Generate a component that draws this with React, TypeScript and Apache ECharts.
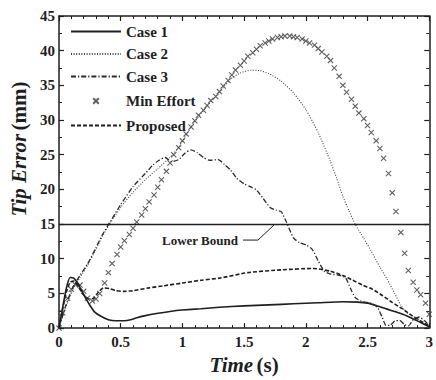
import React, { useEffect, useRef } from "react";
import * as echarts from "echarts";

// Time (s), Tip Error (mm)
const case1: [number, number][] = [
  [0, 0], [0.03, 3.0], [0.06, 5.8], [0.09, 7.3], [0.12, 7.2], [0.15, 6.5], [0.18, 5.5],
  [0.21, 4.5], [0.25, 3.3], [0.29, 2.3], [0.34, 1.7], [0.4, 1.2], [0.46, 1.05], [0.53, 1.05],
  [0.58, 1.2], [0.63, 1.5], [0.7, 1.8], [0.79, 2.1], [0.9, 2.4], [1.0, 2.6], [1.15, 2.8],
  [1.3, 3.0], [1.5, 3.2], [1.7, 3.35], [1.9, 3.5], [2.1, 3.65], [2.3, 3.8], [2.42, 3.75],
  [2.5, 3.6], [2.58, 3.2], [2.68, 2.6], [2.77, 2.1], [2.85, 1.5], [2.92, 0.9], [3.0, 0.2],
];

const case2: [number, number][] = [
  [0, 0], [0.05, 2.8], [0.11, 5.5], [0.17, 7.3], [0.23, 9.0], [0.3, 11.4], [0.35, 13.2],
  [0.41, 15.0], [0.5, 17.4], [0.6, 19.6], [0.7, 21.4], [0.8, 23.0], [0.9, 24.6], [0.97, 26.1],
  [1.07, 29.0], [1.18, 31.6], [1.29, 33.8], [1.39, 35.9], [1.47, 36.8], [1.56, 37.2],
  [1.63, 37.1], [1.7, 36.7], [1.8, 35.6], [1.9, 33.9], [2.0, 31.5], [2.1, 28.2], [2.2, 24.0],
  [2.25, 21.6], [2.3, 19.0], [2.35, 16.9], [2.4, 15.0], [2.47, 12.9], [2.53, 11.1], [2.6, 8.8],
  [2.66, 7.0], [2.72, 5.0], [2.77, 3.3], [2.82, 2.2], [2.88, 1.6], [2.94, 1.0], [3.0, 0.3],
];

const case3: [number, number][] = [
  [0, 0], [0.05, 3.0], [0.11, 5.8], [0.17, 7.6], [0.23, 9.2], [0.3, 11.6], [0.35, 13.4],
  [0.41, 15.2], [0.5, 17.8], [0.6, 20.4], [0.7, 22.3], [0.76, 23.5], [0.81, 24.2], [0.86, 24.6],
  [0.91, 24.0], [0.97, 24.3], [1.02, 25.2], [1.07, 25.7], [1.12, 25.3], [1.17, 24.6],
  [1.22, 24.2], [1.29, 24.3], [1.34, 23.6], [1.39, 22.8], [1.44, 21.6], [1.5, 20.8],
  [1.55, 20.4], [1.6, 19.9], [1.65, 18.8], [1.71, 17.4], [1.76, 17.0], [1.8, 16.8],
  [1.84, 15.4], [1.9, 13.0], [1.95, 12.3], [2.0, 12.0], [2.05, 11.4], [2.1, 9.7], [2.15, 8.2],
  [2.2, 7.8], [2.27, 7.6], [2.32, 7.3], [2.36, 5.8], [2.4, 4.4], [2.46, 3.8], [2.53, 3.6],
  [2.58, 3.0], [2.62, 1.5], [2.65, 0.4], [2.68, 0.4], [2.72, 1.0], [2.76, 1.1], [2.8, 0.5],
  [2.83, 0.3], [2.87, 1.2], [2.92, 1.6], [2.96, 1.1], [3.0, 0.4],
];

const minEffortTimes: number[] = [
  0, 0.03, 0.07, 0.1, 0.13, 0.17, 0.2, 0.23, 0.27, 0.3, 0.33, 0.37, 0.4, 0.43, 0.47, 0.5,
  0.53, 0.57, 0.6, 0.63, 0.67, 0.7, 0.73, 0.77, 0.8, 0.83, 0.87, 0.9, 0.93, 0.97, 1.0, 1.03,
  1.07, 1.1, 1.13, 1.17, 1.2, 1.23, 1.27, 1.3, 1.33, 1.37, 1.4, 1.43, 1.47, 1.5, 1.53, 1.57,
  1.6, 1.63, 1.67, 1.7, 1.73, 1.77, 1.8, 1.83, 1.87, 1.9, 1.93, 1.97, 2.0, 2.03, 2.07, 2.1,
  2.13, 2.17, 2.2, 2.23, 2.27, 2.3, 2.33, 2.37, 2.4, 2.43, 2.47, 2.5, 2.53, 2.57, 2.6, 2.63,
  2.67, 2.7, 2.73, 2.77, 2.8, 2.83, 2.87, 2.9, 2.93, 2.97, 3.0,
];
const minEffortValues: number[] = [
  0, 2.2, 4.3, 5.6, 6.3, 6.2, 5.3, 4.3, 3.9, 4.2,
  5.0, 6.5, 8.0, 9.3, 10.6, 11.7, 12.6, 13.5, 14.4, 15.3,
  16.3, 17.2, 18.2, 19.2, 20.3, 21.4, 22.6, 23.8, 25.0, 26.0,
  27.0, 28.0, 29.0, 29.9, 30.7, 31.4, 32.1, 32.8, 33.4, 34.1,
  34.9, 35.7, 36.5, 37.2, 37.9, 38.5, 39.2, 39.7, 40.2, 40.7,
  41.1, 41.4, 41.7, 41.9, 42.0, 42.1, 42.1, 42.0, 41.9, 41.7,
  41.4, 41.1, 40.8, 40.3, 39.8, 39.2, 38.6, 37.5, 36.3, 35.0,
  34.0, 33.0, 32.0, 31.0, 30.2, 29.2, 28.2, 27.0, 25.9, 24.5,
  22.3, 19.5, 16.8, 13.8, 10.8, 8.3, 6.6, 5.5, 4.8, 3.6,
  2.0,
];

const proposed: [number, number][] = [
  [0, 0], [0.03, 2.8], [0.06, 5.2], [0.09, 6.6], [0.12, 6.8], [0.15, 6.2], [0.19, 5.0],
  [0.24, 4.2], [0.28, 4.3], [0.32, 5.2], [0.36, 5.8], [0.41, 5.7], [0.46, 5.4], [0.52, 5.3],
  [0.6, 5.4], [0.73, 5.8], [0.85, 6.1], [1.0, 6.5], [1.15, 6.9], [1.3, 7.2], [1.53, 8.0],
  [1.8, 8.4], [2.06, 8.6], [2.2, 8.2], [2.3, 7.6], [2.38, 6.9], [2.46, 6.2], [2.54, 5.6],
  [2.62, 4.7], [2.7, 3.7], [2.78, 2.8], [2.86, 1.8], [2.93, 1.0], [3.0, 0.3],
];

const lowerBound = 15;
const seriesNames = ["Case 1", "Case 2", "Case 3", "Min Effort", "Proposed"];

const FONT = "'Liberation Serif', 'Times New Roman', serif";
const INK = "#1e1e1e";
const CLEAR = "rgba(0,0,0,0)";

export default function App() {
  const ref = useRef<HTMLDivElement>(null);

  useEffect(() => {
    if (!ref.current) return;
    const chart = echarts.init(ref.current, null, { renderer: "svg" });

    const axisLine = { show: true, onZero: false, lineStyle: { color: INK, width: 1.5 } };
    const axisTick = { show: true, inside: true, length: 5, lineStyle: { color: INK, width: 1.2 } };
    const minorTickX = { show: true, splitNumber: 5, length: 3, lineStyle: { color: INK, width: 1 } };
    const minorTickY = { show: true, splitNumber: 2, length: 3, lineStyle: { color: INK, width: 1 } };
    const labelStyle = { fontFamily: FONT, fontWeight: "bold" as const, fontSize: 15, color: INK };
    const nameRich = {
      i: { fontFamily: FONT, fontWeight: "bold" as const, fontStyle: "italic" as const, fontSize: 21, color: INK },
      n: { fontFamily: FONT, fontWeight: "bold" as const, fontSize: 21, color: INK },
    };

    const minEffortData = minEffortTimes.map((t, i) => [t, minEffortValues[i]]);

    const option: any = {
      animation: false,
      backgroundColor: "#fff",
      grid: { left: 58, top: 16, right: 1, bottom: 40, containLabel: false },
      legend: {
        data: seriesNames,
        orient: "vertical",
        left: 70,
        top: 24,
        padding: 0,
        itemWidth: 50,
        itemHeight: 14,
        itemGap: 7.5,
        textStyle: { fontFamily: FONT, fontWeight: "bold", fontSize: 15, color: INK },
      },
      xAxis: [
        {
          type: "value", min: 0, max: 3, interval: 0.5, position: "bottom",
          axisLine, axisTick, minorTick: minorTickX,
          splitLine: { show: false }, minorSplitLine: { show: false },
          axisLabel: { ...labelStyle, margin: 6, showMaxLabel: true },
          name: "{i|Time} {n|(s)}", nameLocation: "middle", nameGap: 17,
          nameTextStyle: { rich: nameRich },
        },
        {
          type: "value", min: 0, max: 3, interval: 0.5, position: "top",
          axisLine, axisTick, minorTick: minorTickX,
          splitLine: { show: false }, axisLabel: { show: false },
        },
      ],
      yAxis: [
        {
          type: "value", min: 0, max: 45, interval: 5, position: "left",
          axisLine, axisTick, minorTick: minorTickY,
          splitLine: { show: false }, minorSplitLine: { show: false },
          axisLabel: { ...labelStyle, margin: 4 },
          name: "{i|Tip Error} {n|(mm)}", nameLocation: "middle", nameGap: 30,
          nameTextStyle: { rich: nameRich, padding: [0, 0, 0, 46] },
        },
        {
          type: "value", min: 0, max: 45, interval: 5, position: "right",
          axisLine, axisTick, minorTick: minorTickY,
          splitLine: { show: false }, axisLabel: { show: false },
        },
      ],
      series: [
        {
          name: "Case 1", type: "line", data: case1, smooth: 0.2, symbol: "none", showSymbol: false,
          lineStyle: { color: INK, width: 1.6, type: "solid" },
          itemStyle: { color: CLEAR },
          markLine: {
            silent: true, symbol: "none", label: { show: false },
            lineStyle: { color: INK, width: 1.3, type: "solid" },
            data: [{ yAxis: lowerBound }],
          },
        },
        {
          name: "Case 2", type: "line", data: case2, smooth: 0.2, symbol: "none", showSymbol: false,
          lineStyle: { color: "#444", width: 1.1, type: [1, 1.6] },
          itemStyle: { color: CLEAR },
        },
        {
          name: "Case 3", type: "line", data: case3, smooth: 0.2, symbol: "none", showSymbol: false,
          lineStyle: { color: "#2a2a2a", width: 1.3, type: [5, 2, 1.2, 2] },
          itemStyle: { color: CLEAR },
        },
        {
          name: "Min Effort", type: "scatter", data: minEffortData,
          symbol: "path://M0,0M20,20M6,6L14,14M14,6L6,14",
          symbolSize: 13, symbolKeepAspect: true,
          itemStyle: { color: "none", borderColor: "#3a3a3a", borderWidth: 1.1 },
        },
        {
          name: "Proposed", type: "line", data: proposed, smooth: 0.2, symbol: "none", showSymbol: false,
          lineStyle: { color: INK, width: 1.6, type: [4, 2] },
          itemStyle: { color: CLEAR },
        },
      ],
    };

    chart.setOption(option);

    const p = chart.convertToPixel({ seriesIndex: 0 }, [1.75, lowerBound]) as number[];
    if (p && isFinite(p[0])) {
      chart.setOption({
        graphic: [
          {
            type: "text", x: p[0] - 37, y: p[1] + 16,
            style: {
              text: "Lower Bound", fontFamily: FONT, fontWeight: "bold", fontSize: 13,
              fill: INK, align: "right", verticalAlign: "middle",
            },
          },
          {
            type: "polyline",
            shape: { points: [[p[0] - 32, p[1] + 16], [p[0] - 17, p[1] + 16], [p[0], p[1]]] },
            style: { stroke: INK, lineWidth: 1, fill: "none" },
          },
        ],
      });
    }

    return () => chart.dispose();
  }, []);

  return (
    <div
      ref={ref}
      style={{ position: "fixed", left: 0, top: 0, width: 436, height: 380, background: "#fff" }}
    />
  );
}
